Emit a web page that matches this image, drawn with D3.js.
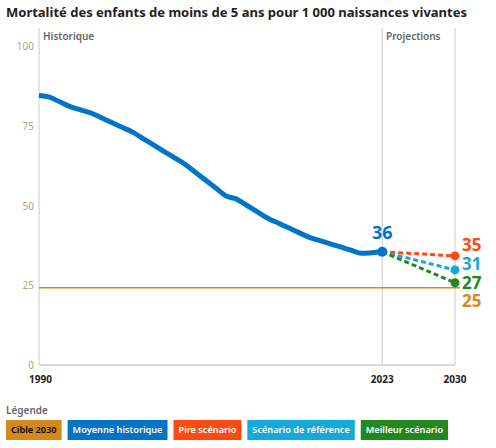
<!DOCTYPE html><html><head><meta charset="utf-8">
<script src="https://cdn.jsdelivr.net/npm/d3@7"></script>
<style>body{margin:0;font-family:"Noto Sans","Open Sans",sans-serif;background:#fff}</style></head><body>
<svg id="c" width="496" height="448"></svg>
<script>
const years=[1990,1991,1992,1993,1994,1995,1996,1997,1998,1999,2000,2001,2002,2003,2004,2005,2006,2007,2008,2009,2010,2011,2012,2013,2014,2015,2016,2017,2018,2019,2020,2021,2022,2023];
const history=[84.5,84,82.5,81,80,79,77.5,76,74.5,73,71,69,67,65,63,60.5,58,55.5,53,52,50,48,46,44.5,43,41.5,40,39,38,37,36,35,35.2,35.5];
const scenarioNames=["Pire scénario","Scénario de référence","Meilleur scénario"];
const scenario2030=[34.2,29.8,25.8];
const scenarioLabels=["35","31","27"];
const target=24.2, targetLabel="25", lastLabel="36";
const yTicks=[0,25,50,75,100];
const legendItems=["Cible 2030","Moyenne historique","Pire scénario","Scénario de référence","Meilleur scénario"];
const colors=["#d4891b","#0074c8","#ff4b12","#12aadb","#218820"];
const textCol=["#000","#fff","#fff","#fff","#fff"];

const svg=d3.select("#c");
const x=d3.scaleLinear().domain([1990,2030]).range([39,455]);
const y=d3.scaleLinear().domain([0,100]).range([365,46]);
svg.append("text").attr("x",6).attr("y",17).attr("font-size",13).attr("font-weight",700).attr("fill","#222").text("Mortalité des enfants de moins de 5 ans pour 1 000 naissances vivantes");
[1990,2023,2030].forEach(v=>svg.append("line").attr("x1",x(v)).attr("x2",x(v)).attr("y1",28).attr("y2",365).attr("stroke","#ccc"));
svg.append("line").attr("x1",39).attr("x2",455).attr("y1",365).attr("y2",365).attr("stroke","#bbb");
svg.append("text").attr("x",43).attr("y",40).attr("font-size",10).attr("font-weight",600).attr("fill","#666").text("Historique");
svg.append("text").attr("x",386).attr("y",40).attr("font-size",10).attr("font-weight",600).attr("fill","#666").text("Projections");
yTicks.forEach(t=>svg.append("text").attr("x",34).attr("y",y(t)+4).attr("text-anchor","end").attr("font-size",10).attr("fill","#b3a089").text(t));
[[1990,"start"],[2023,"middle"],[2030,"middle"]].forEach(([v,a])=>svg.append("text").attr("x",v==1990?x(v)-10:x(v)).attr("y",383).attr("text-anchor",v==1990?"start":a).attr("font-size",10).attr("font-weight",700).attr("fill","#222").text(v));
svg.append("line").attr("x1",x(1990)).attr("x2",x(2030)+5).attr("y1",y(target)).attr("y2",y(target)).attr("stroke",colors[0]).attr("stroke-width",1.5);
svg.append("path").datum(years.map((d,i)=>[d,history[i]])).attr("d",d3.line().x(d=>x(d[0])).y(d=>y(d[1])).curve(d3.curveMonotoneX)).attr("fill","none").attr("stroke",colors[1]).attr("stroke-width",5);
const last=history[history.length-1];
scenario2030.forEach((v,i)=>{
 svg.append("line").attr("x1",x(2023)).attr("y1",y(last)).attr("x2",x(2030)).attr("y2",y(v)).attr("stroke",colors[i+2]).attr("stroke-width",3).attr("stroke-dasharray","5,3");
 svg.append("circle").attr("cx",x(2030)).attr("cy",y(v)).attr("r",4.5).attr("fill",colors[i+2]);
});
svg.append("circle").attr("cx",x(2023)).attr("cy",y(last)).attr("r",5).attr("fill",colors[1]);
svg.append("text").attr("x",x(2023)).attr("y",y(last)-13).attr("text-anchor","middle").attr("font-size",18).attr("font-weight",700).attr("fill",colors[1]).text(lastLabel);
const labY=[251,270,289,307];
[...scenarioLabels,targetLabel].forEach((t,i)=>svg.append("text").attr("x",462).attr("y",labY[i]).attr("font-size",17).attr("font-weight",700).attr("fill",i<3?colors[i+2]:colors[0]).text(t));
svg.append("text").attr("x",6).attr("y",414).attr("font-size",10).attr("font-weight",600).attr("fill","#666").text("Légende");
let lx=6;
legendItems.forEach((t,i)=>{
 const g=svg.append("g");
 const tx=g.append("text").attr("x",lx+5).attr("y",433).attr("font-size",9.2).attr("font-weight",600).attr("fill",textCol[i]).text(t);
 const w=tx.node().getComputedTextLength()+10;
 g.insert("rect","text").attr("x",lx).attr("y",420).attr("width",w).attr("height",20).attr("fill",colors[i]);
 lx+=w+6;
});
</script></body></html>
